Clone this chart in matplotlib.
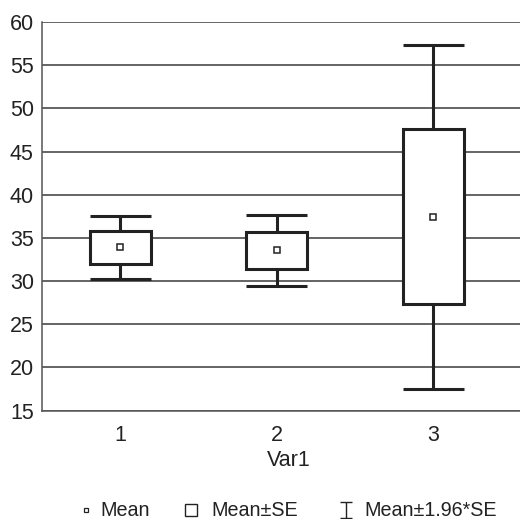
import matplotlib
matplotlib.use("Agg")
import matplotlib.pyplot as plt
import numpy as np
from matplotlib.lines import Line2D
from matplotlib.path import Path

plt.rcParams['font.family'] = ['Liberation Sans Narrow', 'Liberation Sans', 'DejaVu Sans']

groups = ["1", "2", "3"]
means = [33.9, 33.55, 37.45]
se = [1.87, 2.12, 10.15]
yticks = [15, 20, 25, 30, 35, 40, 45, 50, 55, 60]
legend_labels = ["Mean", "Mean±SE", "Mean±1.96*SE"]

x = np.arange(1, len(groups) + 1)
m = np.array(means)
s = np.array(se)
dark = "#222222"
box_w = 0.39

fig = plt.figure(figsize=(5.2, 5.19), dpi=100)
ax = fig.add_axes([0.081, 0.2087, 0.95, 0.749])
ax.set_xlim(0.5, 3.5 + 0.05 * 3 / 0.95)
ax.set_ylim(15, 60)
ax.set_yticks(yticks)
ax.set_xticks(x)
ax.set_xticklabels(groups)
ax.yaxis.grid(True, color="#3a3a3a", linewidth=1.1, zorder=0)
ax.set_axisbelow(True)
for side in ["top", "right"]:
    ax.spines[side].set_visible(False)
for side in ["left", "bottom"]:
    ax.spines[side].set_color("#555555")
    ax.spines[side].set_linewidth(1.1)
ax.tick_params(length=0, labelsize=15.5, colors="#222222", pad=6)
ax.tick_params(axis="x", pad=10)

# whiskers (mean +/- 1.96*SE)
ax.vlines(x, m - 1.96 * s, m + 1.96 * s, color=dark, linewidth=2.2, zorder=2)
ax.hlines(m + 1.96 * s, x - box_w / 2, x + box_w / 2, color=dark, linewidth=2.2, zorder=2)
ax.hlines(m - 1.96 * s, x - box_w / 2, x + box_w / 2, color=dark, linewidth=2.2, zorder=2)
# boxes (mean +/- SE)
ax.bar(x, 2 * s, bottom=m - s, width=box_w, facecolor="white", edgecolor=dark,
       linewidth=2.2, zorder=3)
# means
ax.plot(x, m, linestyle="none", marker="s", markersize=5, markerfacecolor="white",
        markeredgecolor=dark, markeredgewidth=1.1, zorder=4)

ax.set_xlabel("Var1", fontsize=15.5, color="#222222", labelpad=3)

# legend, placed by hand
ibeam = Path([(-0.75, -1), (0.75, -1), (0, -1), (0, 1), (-0.75, 1), (0.75, 1)],
             [Path.MOVETO, Path.LINETO, Path.MOVETO, Path.LINETO, Path.MOVETO, Path.LINETO])
leg_y = 1 - 510 / 519
marker_x = [86 / 520, 191 / 520, 346 / 520]
text_x = [100 / 520, 211 / 520, 364 / 520]
marker_styles = [dict(marker="s", markersize=3, markeredgewidth=0.9),
                 dict(marker="s", markersize=8.5, markeredgewidth=1.0),
                 dict(marker=ibeam, markersize=11.5, markeredgewidth=1.0)]
for mx, tx, lab, st in zip(marker_x, text_x, legend_labels, marker_styles):
    fig.add_artist(Line2D([mx], [leg_y], transform=fig.transFigure, linestyle="none",
                          markerfacecolor="white", markeredgecolor=dark, **st))
    fig.text(tx, leg_y, lab, fontsize=14.2, color="#222222", ha="left", va="center")

fig.savefig("out.png", dpi=100)
